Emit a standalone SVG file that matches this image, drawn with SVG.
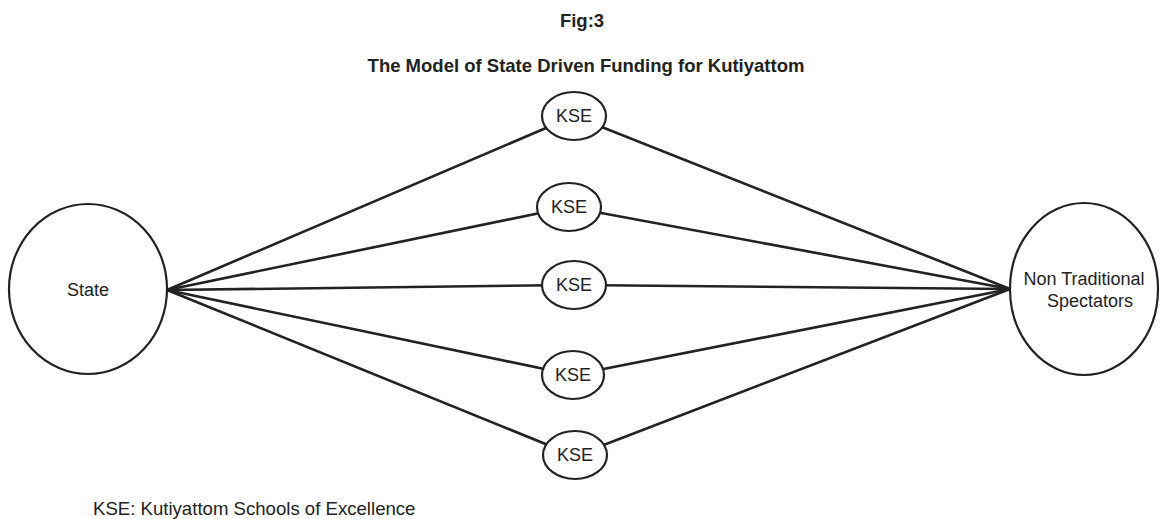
<svg xmlns="http://www.w3.org/2000/svg" width="1160" height="519" viewBox="0 0 1160 519">
<style>
.bg{fill:#fff}
.node{fill:#fff;stroke:#222;stroke-width:2.2}
.edge{stroke:#222;stroke-width:2.6;fill:none}
.lbl{font-family:"Liberation Sans",Arial,sans-serif;font-size:18px;fill:#222;text-anchor:middle}
.ttl{font-family:"Liberation Sans",Arial,sans-serif;font-weight:bold;fill:#222;text-anchor:middle}
</style>
<rect class="bg" x="0" y="0" width="1160" height="519"/>
<text class="ttl" x="582" y="27" font-size="18.5">Fig:3</text>
<text class="ttl" x="586" y="72" font-size="18.5">The Model of State Driven Funding for Kutiyattom</text>
<g id="connectors">
<line class="edge" x1="167" y1="290" x2="574" y2="116"/>
<line class="edge" x1="167" y1="290" x2="569" y2="207"/>
<line class="edge" x1="167" y1="290" x2="574" y2="285"/>
<line class="edge" x1="167" y1="290" x2="573" y2="375"/>
<line class="edge" x1="167" y1="290" x2="575" y2="456"/>
<line class="edge" x1="574" y1="116" x2="1010" y2="289"/>
<line class="edge" x1="569" y1="207" x2="1010" y2="289"/>
<line class="edge" x1="574" y1="285" x2="1010" y2="289"/>
<line class="edge" x1="573" y1="375" x2="1010" y2="289"/>
<line class="edge" x1="575" y1="456" x2="1010" y2="289"/>
</g>
<g id="state">
<ellipse class="node" cx="88" cy="289" rx="79" ry="85"/>
<text class="lbl" x="88" y="296">State</text>
</g>
<g id="spectators">
<ellipse class="node" cx="1084" cy="289" rx="74" ry="86"/>
<text class="lbl" x="1084" y="285">Non Traditional</text>
<text class="lbl" x="1090" y="307">Spectators</text>
</g>
<g id="kse1">
<ellipse class="node" cx="574" cy="116" rx="32" ry="24"/>
<text class="lbl" x="574" y="122">KSE</text>
</g>
<g id="kse2">
<ellipse class="node" cx="569" cy="207" rx="32" ry="24"/>
<text class="lbl" x="569" y="213">KSE</text>
</g>
<g id="kse3">
<ellipse class="node" cx="574" cy="285" rx="32" ry="24"/>
<text class="lbl" x="574" y="291">KSE</text>
</g>
<g id="kse4">
<ellipse class="node" cx="573" cy="375" rx="31" ry="24"/>
<text class="lbl" x="573" y="381">KSE</text>
</g>
<g id="kse5">
<ellipse class="node" cx="575" cy="455" rx="32" ry="24"/>
<text class="lbl" x="575" y="461">KSE</text>
</g>
<text x="93" y="515" font-family="&quot;Liberation Sans&quot;,Arial,sans-serif" font-size="18.6" fill="#222">KSE: Kutiyattom Schools of Excellence</text>
</svg>
